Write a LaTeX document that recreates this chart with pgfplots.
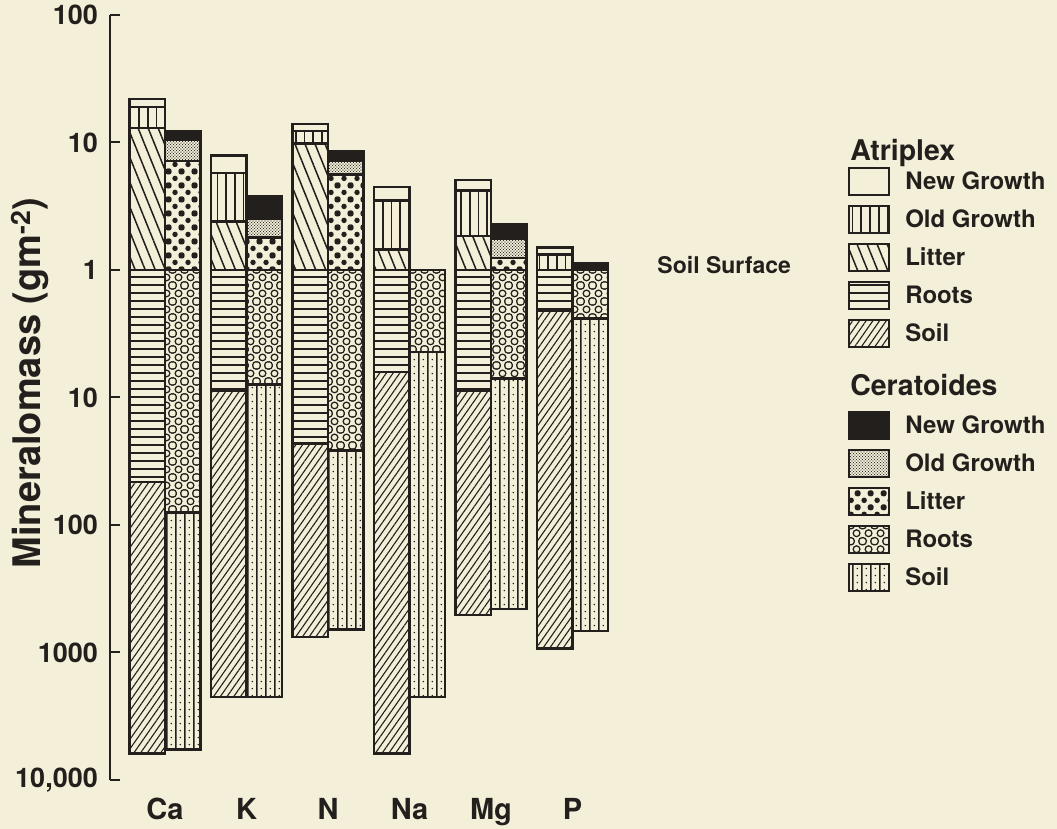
\documentclass[border=0pt]{standalone}
\usepackage{fontspec}
\setmainfont{TeX Gyre Heros}
\usepackage{pgfplots}
\pgfplotsset{compat=1.18}
\usepackage{pgfplotstable}
\usetikzlibrary{patterns,patterns.meta,backgrounds}
\definecolor{bg}{HTML}{F3EFD9}
\definecolor{ink}{HTML}{231F1C}

% fine stipple (Ceratoides old growth)
\pgfdeclarepatternformonly{cstipple}{\pgfqpoint{0pt}{0pt}}{\pgfqpoint{3.4pt}{3.4pt}}{\pgfqpoint{3.4pt}{3.4pt}}{%
  \pgfpathcircle{\pgfqpoint{0pt}{0pt}}{0.65pt}%
  \pgfpathcircle{\pgfqpoint{3.4pt}{0pt}}{0.65pt}%
  \pgfpathcircle{\pgfqpoint{0pt}{3.4pt}}{0.65pt}%
  \pgfpathcircle{\pgfqpoint{3.4pt}{3.4pt}}{0.65pt}%
  \pgfpathcircle{\pgfqpoint{1.7pt}{1.7pt}}{0.65pt}%
  \pgfusepath{fill}}
% large dots (Ceratoides litter)
\pgfdeclarepatternformonly{cdots}{\pgfqpoint{0pt}{0pt}}{\pgfqpoint{13pt}{14pt}}{\pgfqpoint{13pt}{14pt}}{%
  \pgfpathcircle{\pgfqpoint{0pt}{0pt}}{2.9pt}%
  \pgfpathcircle{\pgfqpoint{13pt}{0pt}}{2.9pt}%
  \pgfpathcircle{\pgfqpoint{0pt}{14pt}}{2.9pt}%
  \pgfpathcircle{\pgfqpoint{13pt}{14pt}}{2.9pt}%
  \pgfpathcircle{\pgfqpoint{6.5pt}{7pt}}{2.9pt}%
  \pgfusepath{fill}}
% open circles (Ceratoides roots)
\pgfdeclarepatternformonly{ccircles}{\pgfqpoint{0pt}{0pt}}{\pgfqpoint{11.5pt}{16pt}}{\pgfqpoint{11.5pt}{16pt}}{%
  \pgfsetlinewidth{1.3pt}%
  \pgfpathcircle{\pgfqpoint{0pt}{0pt}}{3.5pt}%
  \pgfpathcircle{\pgfqpoint{11.5pt}{0pt}}{3.5pt}%
  \pgfpathcircle{\pgfqpoint{0pt}{16pt}}{3.5pt}%
  \pgfpathcircle{\pgfqpoint{11.5pt}{16pt}}{3.5pt}%
  \pgfpathcircle{\pgfqpoint{5.75pt}{8pt}}{3.5pt}%
  \pgfusepath{stroke}}
% vertical lines with dots (Ceratoides soil)
\pgfdeclarepatternformonly{csoil}{\pgfqpoint{0pt}{0pt}}{\pgfqpoint{8.8pt}{7.4pt}}{\pgfqpoint{8.8pt}{7.4pt}}{%
  \pgfsetlinewidth{1.2pt}%
  \pgfpathmoveto{\pgfqpoint{0pt}{-1pt}}\pgfpathlineto{\pgfqpoint{0pt}{8.4pt}}%
  \pgfpathmoveto{\pgfqpoint{8.8pt}{-1pt}}\pgfpathlineto{\pgfqpoint{8.8pt}{8.4pt}}%
  \pgfusepath{stroke}%
  \pgfpathcircle{\pgfqpoint{4.4pt}{3.7pt}}{0.85pt}%
  \pgfusepath{fill}}

\tikzset{
  segment/.style={draw=ink, line width=2.3pt},
  aNG/.style={segment, fill=bg},
  aOG/.style={segment, fill=bg, postaction={pattern={Lines[angle=90,distance=8.7pt,line width=1.7pt]}, pattern color=ink}},
  aLit/.style={segment, fill=bg, postaction={pattern={Lines[angle=-68,distance=9.3pt,line width=1.5pt]}, pattern color=ink}},
  aRoots/.style={segment, fill=bg, postaction={pattern={Lines[angle=0,distance=8pt,line width=1.5pt]}, pattern color=ink}},
  aSoil/.style={segment, fill=bg, postaction={pattern={Lines[angle=55,distance=5.5pt,line width=1.1pt]}, pattern color=ink}},
  cNG/.style={segment, fill=ink},
  cOG/.style={segment, fill=bg, postaction={pattern=cstipple, pattern color=ink}},
  cLit/.style={segment, fill=bg, postaction={pattern=cdots, pattern color=ink}},
  cRoots/.style={segment, fill=bg, postaction={pattern=ccircles, pattern color=ink}},
  cSoil/.style={segment, fill=bg, postaction={pattern=csoil, pattern color=ink}},
}

% Mineralomass in g m^-2 (above ground: cumulative tops of New Growth, Old Growth, Litter;
% below ground: cumulative depths of Roots and Soil)
\pgfplotstableread{
el ng og lit roots soil
0 22 19 13 46 6200
1 7.9 5.75 2.4 8.8 2240
2 14 12.3 9.8 23 760
3 4.5 3.5 1.45 6.3 6200
4 5.1 4.2 1.85 8.8 510
5 1.5 1.32 1 2.1 930
}\atriplex
\pgfplotstableread{
el ng og lit roots soil
0 12.3 10.5 7.2 80 5750
1 3.8 2.5 1.8 7.9 2240
2 8.6 7.2 5.6 26 660
3 1 1 1 4.4 2240
4 2.3 1.76 1.24 7.1 457
5 1.13 1 1 2.4 676
}\ceratoides

\begin{document}
\begin{tikzpicture}
\begin{axis}[
  at={(110pt,49pt)}, anchor=south west,
  scale only axis, width=527.7pt, height=765pt,
  xmin=-0.675, xmax=5.8, ymin=-4, ymax=2,
  axis y line*=left, axis x line*=bottom,
  x axis line style={draw=none},
  y axis line style={line width=2pt, draw=ink},
  ytick={-4,-3,-2,-1,0,1,2},
  yticklabels={{10,000},1000,100,10,1,10,100},
  xtick={0,1,2,3,4,5}, xticklabels={Ca,K,N,Na,Mg,P},
  tick align=inside,
  major tick length=10pt,
  ytick style={line width=2pt, draw=ink},
  xtick style={draw=none},
  yticklabel style={font=\fontsize{27}{27}\selectfont\bfseries, anchor=east, xshift=-12pt, inner sep=0pt, text=ink},
  xticklabel style={font=\fontsize{29}{29}\selectfont\bfseries, anchor=base, yshift=-40pt, inner sep=0pt, text=ink},
  ylabel={Mineralomass (gm\textsuperscript{-2})},
  every axis y label/.style={at={(rel axis cs:-0.1516,0.519)}, rotate=90, anchor=center, font=\fontsize{38}{38}\selectfont\bfseries, text=ink},
  clip=false,
  legend style={at={(1.3985,0.8392)}, anchor=north west, draw=none, fill=none,
    inner sep=0pt, outer sep=0pt, row sep=0pt, column sep=15pt,
    cells={anchor=base west},
    nodes={inner sep=0pt, text height=24pt, text depth=14pt, font=\fontsize{24}{24}\selectfont\bfseries, text=ink}},
  legend image code/.code={\draw[#1] (0pt,-6pt) rectangle (40pt,21pt);},
]
% ---- Atriplex (left bar of each pair)
\addplot[ybar, bar width=0.436, bar shift=-0.218, aNG, forget plot] table[x=el, y expr=log10(\thisrow{ng})]{\atriplex};
\addplot[ybar, bar width=0.436, bar shift=-0.218, aOG, forget plot] table[x=el, y expr=log10(\thisrow{og})]{\atriplex};
\addplot[ybar, bar width=0.436, bar shift=-0.218, aLit, forget plot] table[x=el, y expr=log10(\thisrow{lit})]{\atriplex};
\addplot[ybar, bar width=0.436, bar shift=-0.218, aSoil, forget plot] table[x=el, y expr=-log10(\thisrow{soil})]{\atriplex};
\addplot[ybar, bar width=0.436, bar shift=-0.218, aRoots, forget plot] table[x=el, y expr=-log10(\thisrow{roots})]{\atriplex};
% ---- Ceratoides (right bar of each pair)
\addplot[ybar, bar width=0.436, bar shift=0.218, cNG, forget plot] table[x=el, y expr=log10(\thisrow{ng})]{\ceratoides};
\addplot[ybar, bar width=0.436, bar shift=0.218, cOG, forget plot] table[x=el, y expr=log10(\thisrow{og})]{\ceratoides};
\addplot[ybar, bar width=0.436, bar shift=0.218, cLit, forget plot] table[x=el, y expr=log10(\thisrow{lit})]{\ceratoides};
\addplot[ybar, bar width=0.436, bar shift=0.218, cSoil, forget plot] table[x=el, y expr=-log10(\thisrow{soil})]{\ceratoides};
\addplot[ybar, bar width=0.436, bar shift=0.218, cRoots, forget plot] table[x=el, y expr=-log10(\thisrow{roots})]{\ceratoides};

\node[anchor=base west, font=\fontsize{23}{23}\selectfont\bfseries, text=ink, inner sep=0pt, yshift=-4pt] at (axis cs:6.04,0) {Soil Surface};

\addlegendimage{empty legend}
\addlegendentry[font=\fontsize{28.5}{28.5}\selectfont\bfseries, text height=22pt, text depth=5pt]{\hspace*{-55pt}Atriplex}
\addlegendimage{aNG}\addlegendentry{New Growth}
\addlegendimage{aOG}\addlegendentry{Old Growth}
\addlegendimage{aLit}\addlegendentry{Litter}
\addlegendimage{aRoots}\addlegendentry{Roots}
\addlegendimage{aSoil}\addlegendentry{Soil}
\addlegendimage{empty legend}
\addlegendentry[font=\fontsize{28.5}{28.5}\selectfont\bfseries, text height=40pt, text depth=14pt]{\hspace*{-55pt}Ceratoides}
\addlegendimage{cNG}\addlegendentry{New Growth}
\addlegendimage{cOG}\addlegendentry{Old Growth}
\addlegendimage{cLit}\addlegendentry{Litter}
\addlegendimage{cRoots}\addlegendentry{Roots}
\addlegendimage{cSoil}\addlegendentry{Soil}
\end{axis}
\pgfresetboundingbox
\path[use as bounding box] (0,0) rectangle (1057pt,829pt);
\begin{pgfonlayer}{background}
\fill[bg] (0,0) rectangle (1057pt,829pt);
\end{pgfonlayer}
\end{tikzpicture}
\end{document}
